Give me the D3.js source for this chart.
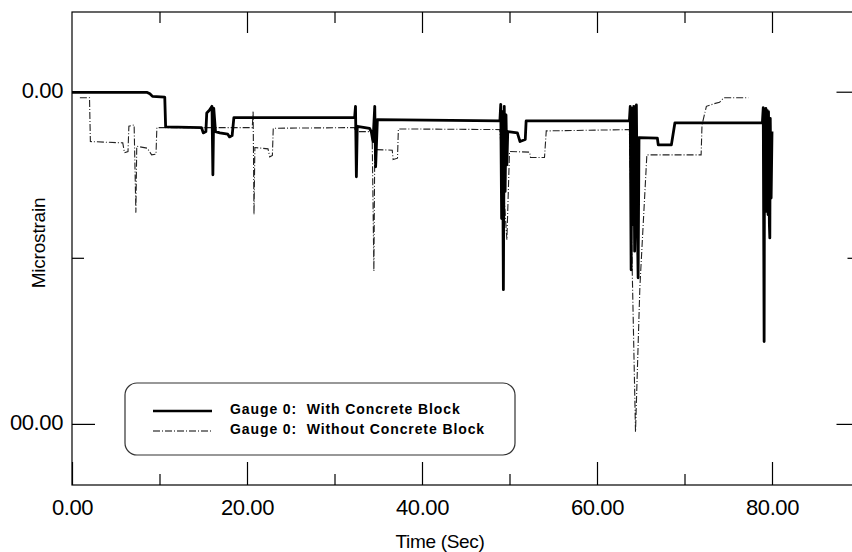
<!DOCTYPE html>
<html>
<head>
<meta charset="utf-8">
<script src="https://cdn.jsdelivr.net/npm/d3@7"></script>
<style>
  body { margin: 0; background: #fff; }
  svg { display: block; font-family: "Liberation Sans", Arial, sans-serif; }
</style>
</head>
<body>
<svg id="svg" width="852" height="552"></svg>
<script>
const width = 852;
const height = 552;

// time (sec), microstrain
const withBlock = [
  [0, -1], [8.6, -1], [8.9, -3], [9.2, -7], [10.6, -8], [10.7, -53],
  [14.8, -54], [15.0, -62], [15.3, -60], [15.4, -32], [15.7, -28], [16.0, -22],
  [16.1, -125], [16.2, -25], [16.4, -60], [16.9, -62], [17.8, -64], [18.0, -68],
  [18.3, -66], [18.5, -39], [32.3, -39], [32.4, -22], [32.5, -128], [32.6, -52],
  [34.0, -55], [34.2, -60], [34.4, -75], [34.6, -22], [34.7, -113], [34.9, -42],
  [48.9, -44], [49.0, -19], [49.1, -191], [49.2, -30], [49.3, -298], [49.4, -22],
  [49.5, -150], [49.6, -35], [49.7, -110], [49.8, -60], [50.9, -62], [51.2, -75],
  [51.8, -72], [51.9, -44], [63.7, -44], [63.8, -22], [63.9, -268], [64.0, -25],
  [64.1, -200], [64.2, -22], [64.3, -240], [64.5, -20], [64.6, -180], [64.7, -280],
  [64.8, -69], [66.9, -70], [67.0, -80], [68.5, -80], [68.9, -47], [78.9, -47],
  [79.0, -24], [79.1, -376], [79.15, -30], [79.25, -170], [79.3, -25], [79.4, -180],
  [79.45, -28], [79.55, -185], [79.6, -30], [79.7, -200], [79.75, -220], [79.8, -40],
  [79.9, -160], [80.0, -60]
];

const withoutBlock = [
  [0.9, -9], [2.0, -9], [2.1, -75], [5.8, -77], [6.0, -92], [6.4, -90],
  [6.5, -52], [7.1, -50], [7.3, -182], [7.4, -82], [8.6, -85], [9.1, -95],
  [9.6, -94], [9.7, -54], [20.6, -54], [20.7, -30], [20.8, -185], [20.9, -84],
  [22.4, -86], [22.6, -98], [22.9, -96], [23.0, -55], [32.3, -54], [32.4, -60],
  [34.3, -60], [34.5, -270], [34.6, -87], [36.6, -88], [36.7, -102], [37.2, -100],
  [37.3, -56], [48.9, -57], [49.7, -223], [50.0, -90], [52.3, -91], [52.4, -99],
  [54.0, -99], [54.2, -59], [63.7, -57], [64.4, -512], [64.9, -294], [65.7, -95],
  [71.9, -95], [72.0, -50], [72.5, -22], [73.4, -18], [74.0, -16], [74.5, -9],
  [77.3, -9]
];

const xMajor = [0, 20, 40, 60, 80];
const xMinor = [10, 30, 50, 70];
const yMajor = [0, -500];
const yMinor = [-250];
const yLabels = { "0": "0.00", "-500": "00.00" };
const legendNames = ["Gauge 0:  With Concrete Block", "Gauge 0:  Without Concrete Block"];

const margin = { left: 72, top: 12, right: 852 - 859.5, bottom: height - 485 };

let svg = d3.select("#svg");

const x = d3
  .scaleLinear()
  .domain([0, 90])
  .range([margin.left, width - margin.right]);

const y = d3
  .scaleLinear()
  .domain([-592, 120])
  .range([height - margin.bottom, margin.top]);

// frame
svg
  .append("rect")
  .attr("x", x(0))
  .attr("y", y(120))
  .attr("width", x(90) - x(0))
  .attr("height", y(-592) - y(120))
  .attr("fill", "none")
  .attr("stroke", "#000")
  .attr("stroke-width", 1.2);

function styleAxis(g) {
  g.select(".domain").remove();
  g.selectAll("line").attr("stroke", "#000").attr("stroke-width", 1.2);
  g.selectAll("text")
    .attr("fill", "#000")
    .attr("font-size", 22)
    .attr("letter-spacing", -0.4)
    .attr("font-family", "Liberation Sans, Arial, sans-serif");
}

// bottom
svg
  .append("g")
  .attr("transform", `translate(0,${y(-592)})`)
  .call(d3.axisBottom(x).tickValues(xMajor).tickSize(-23).tickPadding(14).tickFormat(d3.format(".2f")))
  .call(styleAxis);
svg
  .append("g")
  .attr("transform", `translate(0,${y(-592)})`)
  .call(d3.axisBottom(x).tickValues(xMinor).tickSize(-11).tickFormat(""))
  .call(styleAxis);

// top
svg
  .append("g")
  .attr("transform", `translate(0,${y(120)})`)
  .call(d3.axisTop(x).tickValues(xMajor.slice(1)).tickSize(-21).tickFormat(""))
  .call(styleAxis);
svg
  .append("g")
  .attr("transform", `translate(0,${y(120)})`)
  .call(d3.axisTop(x).tickValues(xMinor).tickSize(-11).tickFormat(""))
  .call(styleAxis);

// left
svg
  .append("g")
  .attr("transform", `translate(${x(0)},0)`)
  .call(d3.axisLeft(y).tickValues(yMajor).tickSize(-23).tickPadding(9).tickFormat((d) => yLabels[d]))
  .call(styleAxis)
  .selectAll("text")
  .attr("dy", "0.25em");
svg
  .append("g")
  .attr("transform", `translate(${x(0)},0)`)
  .call(d3.axisLeft(y).tickValues(yMinor).tickSize(-12).tickFormat(""))
  .call(styleAxis);

// right
svg
  .append("g")
  .attr("transform", `translate(${x(90)},0)`)
  .call(d3.axisRight(y).tickValues(yMajor).tickSize(-23).tickFormat(""))
  .call(styleAxis);
svg
  .append("g")
  .attr("transform", `translate(${x(90)},0)`)
  .call(d3.axisRight(y).tickValues(yMinor).tickSize(-12).tickFormat(""))
  .call(styleAxis);

// axis titles
svg
  .append("text")
  .attr("x", 440)
  .attr("y", 548)
  .attr("text-anchor", "middle")
  .attr("font-size", 19)
  .attr("letter-spacing", -0.3)
  .text("Time (Sec)");

svg
  .append("text")
  .attr("transform", "translate(45,243) rotate(-90)")
  .attr("text-anchor", "middle")
  .attr("font-size", 19)
  .attr("letter-spacing", -0.2)
  .text("Microstrain");

const line = d3
  .line()
  .x((d) => x(d[0]))
  .y((d) => y(d[1]));

svg
  .append("path")
  .datum(withoutBlock)
  .attr("d", line)
  .attr("fill", "none")
  .attr("stroke", "#222")
  .attr("stroke-width", 1.1)
  .attr("stroke-dasharray", "7,2,1,2");

svg
  .append("path")
  .datum(withBlock)
  .attr("d", line)
  .attr("fill", "none")
  .attr("stroke", "#000")
  .attr("stroke-width", 2.8)
  .attr("stroke-linejoin", "round");

// legend
let legend = svg.append("g");
legend
  .append("rect")
  .attr("x", 125)
  .attr("y", 383)
  .attr("width", 390)
  .attr("height", 72)
  .attr("rx", 12)
  .attr("fill", "#fff")
  .attr("stroke", "#333")
  .attr("stroke-width", 1.2);

legendNames.forEach((name, i) => {
  let ly = 411 + i * 20;
  legend
    .append("line")
    .attr("x1", 153)
    .attr("x2", 212)
    .attr("y1", ly)
    .attr("y2", ly)
    .attr("stroke", "#000")
    .attr("stroke-width", i == 0 ? 2.6 : 1.1)
    .attr("stroke-dasharray", i == 0 ? null : "7,2,1,2");
  legend
    .append("text")
    .attr("x", 230)
    .attr("y", ly + 3)
    .attr("font-size", 14)
    .attr("font-weight", "bold")
    .attr("letter-spacing", 0.9)
    .style("white-space", "pre")
    .text(name);
});
</script>
</body>
</html>
